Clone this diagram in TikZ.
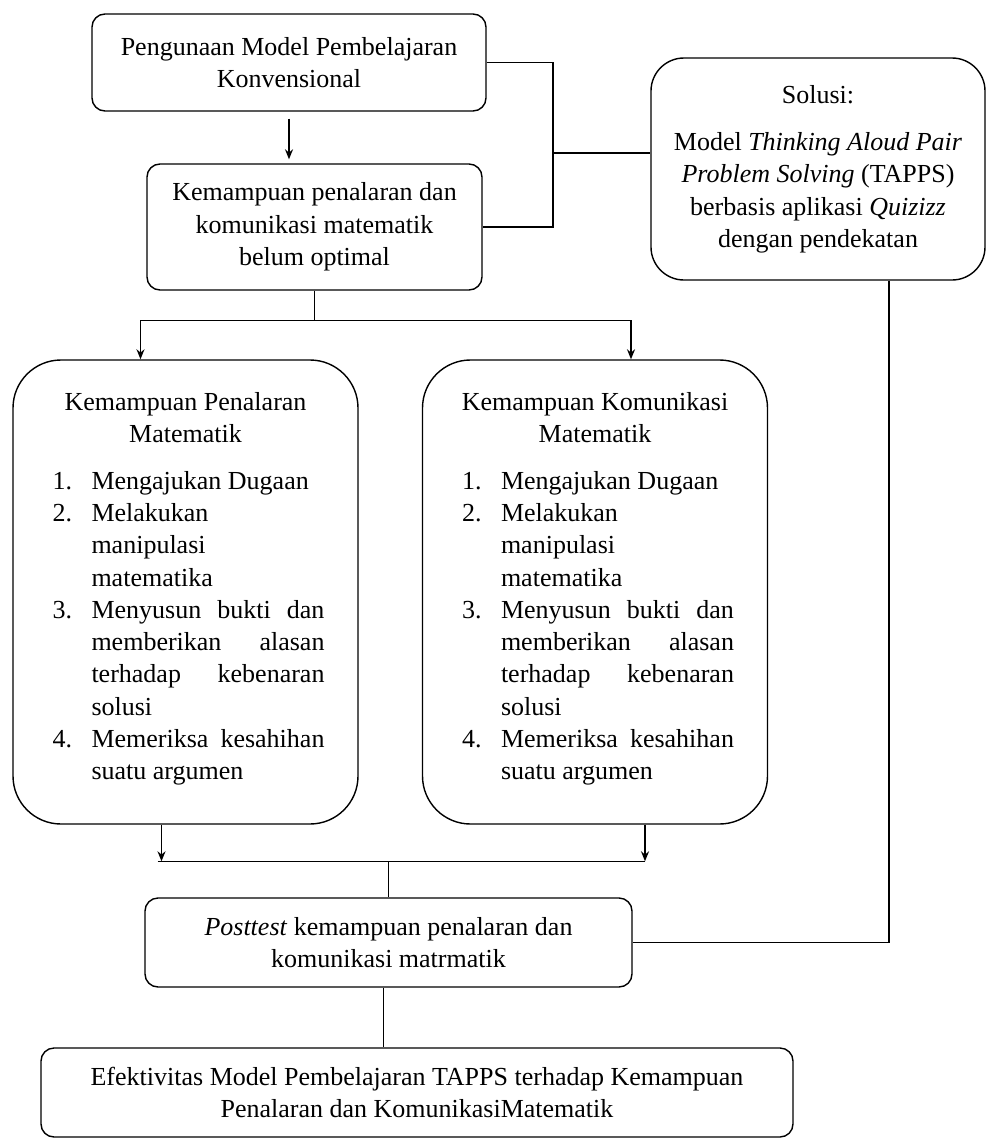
\documentclass[tikz,border=0pt]{standalone}
\usepackage{fontspec}
\setmainfont{Liberation Serif}
\usetikzlibrary{arrows.meta}

\newcommand{\jline}[1]{\makebox[233pt][s]{#1}}
\newcommand{\daftar}{%
\begin{tabular}{@{}p{39pt}@{}l@{}}
1. & Mengajukan Dugaan\\
2. & Melakukan\\
   & manipulasi\\
   & matematika\\
3. & \jline{Menyusun bukti dan}\\
   & \jline{memberikan alasan}\\
   & \jline{terhadap kebenaran}\\
   & solusi\\
4. & \jline{Memeriksa kesahihan}\\
   & suatu argumen
\end{tabular}}

\begin{document}
\begin{tikzpicture}[x=1pt,y=-1pt,font=\fontsize{26}{32.3}\selectfont,
  box/.style={draw,line width=1.4pt,rounded corners=13pt,align=center,inner sep=0pt},
  bigbox/.style={box,rounded corners=48pt,minimum width=345pt,minimum height=464pt},
  teks/.style={align=center,inner sep=0pt},
  link/.style={line width=1.4pt},
  arr/.style={link,-{Stealth[length=10pt,width=8pt]}}]
\useasboundingbox (0,0) rectangle (987,1140);
\node[box,minimum width=394pt,minimum height=97pt] (konv) at (289,62.5) {Pengunaan Model Pembelajaran\\Konvensional};
\node[box,minimum width=335pt,minimum height=126pt] (belum) at (314.5,227) {Kemampuan penalaran dan\\komunikasi matematik\\belum optimal};
\node[box,rounded corners=33pt,minimum width=334pt,minimum height=222pt] (solusi) at (818,169) {Solusi:\\[15pt]Model \textit{Thinking Aloud Pair}\\\textit{Problem Solving} (TAPPS)\\berbasis aplikasi \textit{Quizizz}\\dengan pendekatan};
\node[bigbox] (pen) at (185.5,592) {};
\node[bigbox] (kom) at (595,592) {};
\node[teks] (penjudul) at ([yshift=-58pt]pen.north) {Kemampuan Penalaran\\Matematik};
\node[teks] (komjudul) at ([yshift=-58pt]kom.north) {Kemampuan Komunikasi\\Matematik};
\node[teks,anchor=west] (penisi) at ([xshift=40pt,yshift=-36pt]pen.west) {\daftar};
\node[teks,anchor=west] (komisi) at ([xshift=40pt,yshift=-36pt]kom.west) {\daftar};
\node[box,minimum width=487pt,minimum height=89pt] (post) at (388.5,942.5) {\textit{Posttest} kemampuan penalaran dan\\komunikasi matrmatik};
\node[box,minimum width=752pt,minimum height=89pt] (efek) at (417,1092.5) {Efektivitas Model Pembelajaran TAPPS terhadap Kemampuan\\Penalaran dan KomunikasiMatematik};
\coordinate (jn) at (553,153);
\coordinate (cabang) at ([yshift=-30pt]belum.south);
\coordinate (gabung) at ([yshift=36pt]post.north);
\draw[arr,shorten <=7pt,shorten >=4pt] (konv.south) -- (konv.south |- belum.north);
\draw[link] (konv.east) -| (jn) |- (belum.east);
\draw[link] (jn) -- (jn -| solusi.west);
\draw[link] (belum.south) -- (cabang);
\draw[arr] (cabang) -| ([xshift=-45pt]pen.north);
\draw[arr] (cabang) -| ([xshift=36pt]kom.north);
\draw[arr] ([xshift=-24pt]pen.south) -- ([xshift=-24pt]pen.south |- gabung);
\draw[arr] ([xshift=50pt]kom.south) -- ([xshift=50pt]kom.south |- gabung);
\draw[link] ([xshift=-28pt]pen.south |- gabung) -- ([xshift=50pt]kom.south |- gabung);
\draw[link] (gabung) -- (post.north);
\draw[link] ([xshift=-5pt]post.south) -- ([xshift=-5pt]post.south |- efek.north);
\draw[link] ([xshift=71pt]solusi.south) |- (post.east);
\end{tikzpicture}
\end{document}
